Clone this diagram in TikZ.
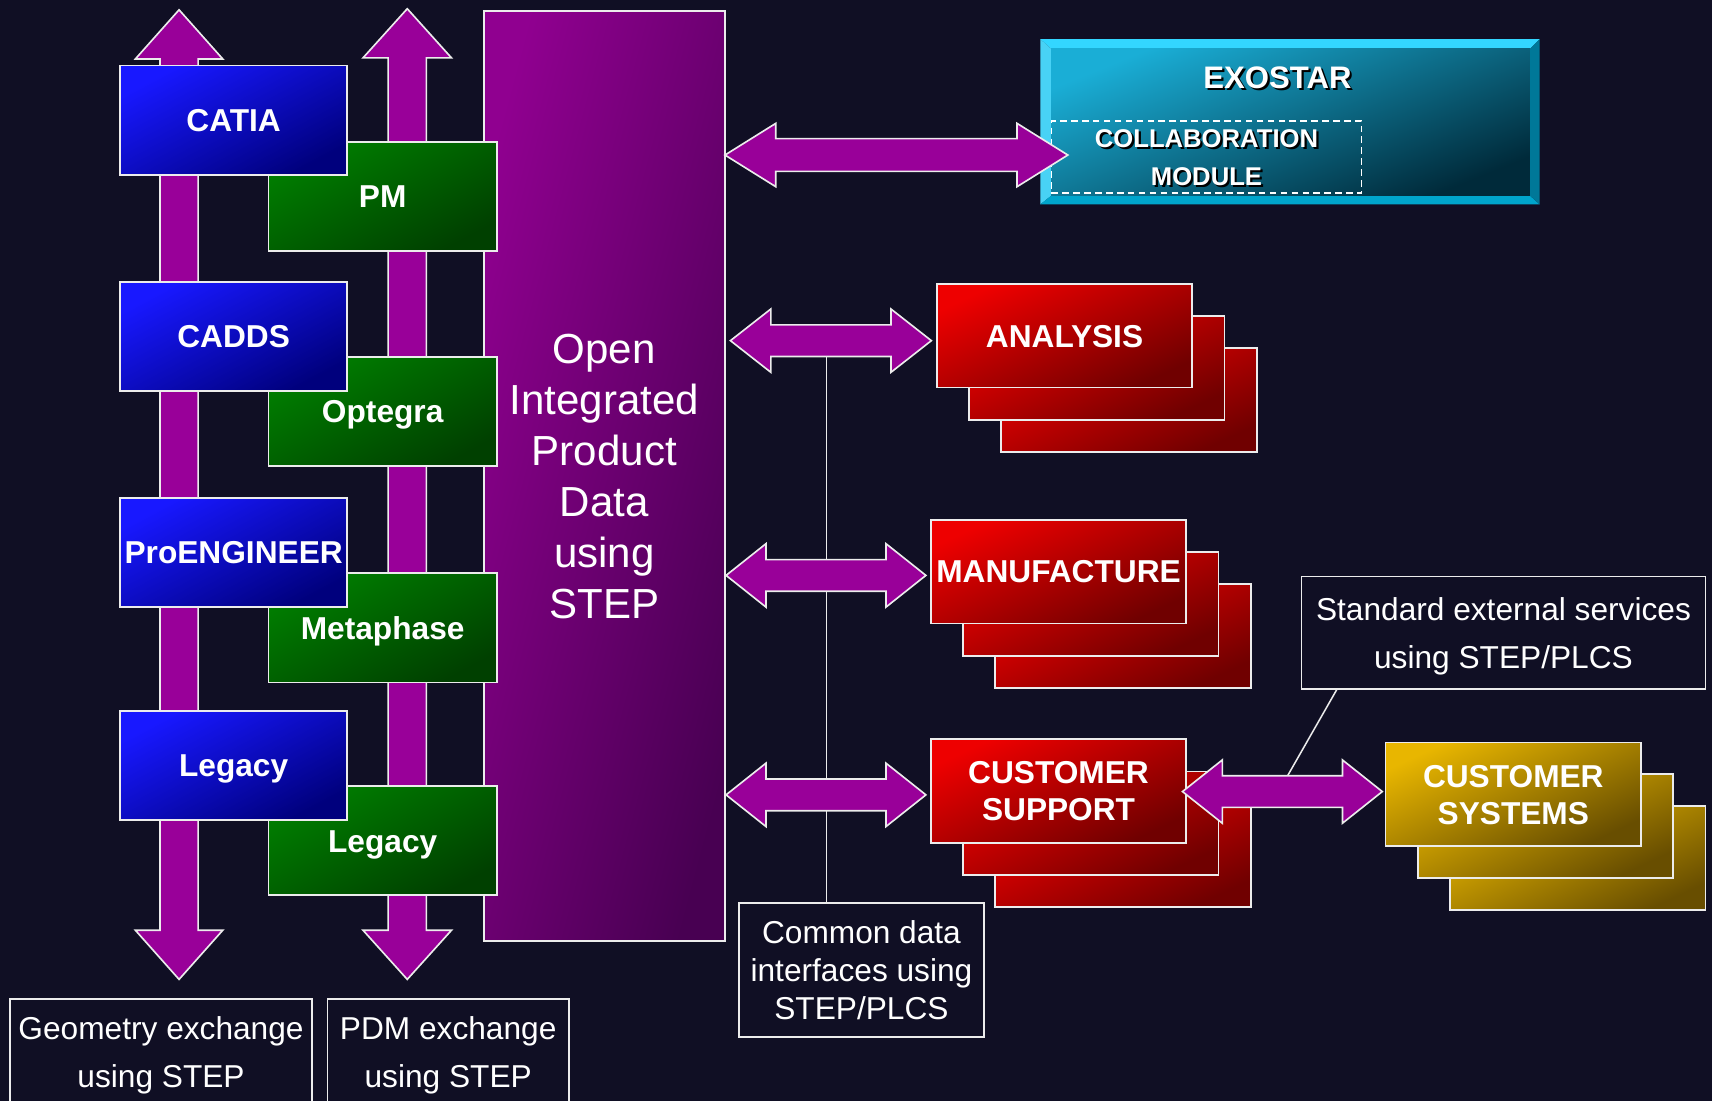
\documentclass[tikz,border=0pt]{standalone}
\usepackage{fontspec}
\setmainfont{Liberation Sans}
\usetikzlibrary{calc}
\definecolor{bg}{RGB}{16,15,36}
\definecolor{arrowpurple}{RGB}{153,0,153}
\definecolor{edge}{RGB}{236,236,236}
\definecolor{blueA}{RGB}{24,24,255}
\definecolor{blueB}{RGB}{0,0,125}
\definecolor{greenA}{RGB}{0,126,0}
\definecolor{greenB}{RGB}{0,64,0}
\definecolor{redA}{RGB}{238,0,0}
\definecolor{redB}{RGB}{112,0,0}
\definecolor{goldA}{RGB}{232,182,0}
\definecolor{goldB}{RGB}{104,78,0}
\definecolor{purpA}{RGB}{144,0,144}
\definecolor{purpB}{RGB}{72,0,82}
\definecolor{cyanA}{RGB}{26,174,214}
\definecolor{cyanB}{RGB}{0,42,58}
\definecolor{bevT}{RGB}{51,214,255}
\definecolor{bevL}{RGB}{72,210,245}
\definecolor{bevB}{RGB}{0,165,204}
\definecolor{bevR}{RGB}{0,120,152}
\newcommand{\mytopstrut}{\rule{0pt}{0.95em}}
\newcommand{\mybotstrut}{\rule[-0.234em]{0pt}{0pt}}
\newcommand{\mycapstrut}{\rule[-0.234em]{0pt}{1.184em}}
% horizontal double block arrow: left tip, right tip, head length, shaft half, head half
\newcommand{\hdarrow}[5]{%
  \filldraw[blockarrow] (#1) -- ($(#1)+(#3,-#5)$) -- ($(#1)+(#3,-#4)$) -- ($(#2)+(-#3,-#4)$)
    -- ($(#2)+(-#3,-#5)$) -- (#2) -- ($(#2)+(-#3,#5)$) -- ($(#2)+(-#3,#4)$)
    -- ($(#1)+(#3,#4)$) -- ($(#1)+(#3,#5)$) -- cycle;}
% vertical double block arrow: top tip, bottom tip, head length, shaft half, head half
\newcommand{\vdarrow}[5]{%
  \filldraw[blockarrow] (#1) -- ($(#1)+(#5,#3)$) -- ($(#1)+(#4,#3)$) -- ($(#2)+(#4,-#3)$)
    -- ($(#2)+(#5,-#3)$) -- (#2) -- ($(#2)+(-#5,-#3)$) -- ($(#2)+(-#4,-#3)$)
    -- ($(#1)+(-#4,#3)$) -- ($(#1)+(-#5,#3)$) -- cycle;}
\tikzset{
  blockarrow/.style={fill=arrowpurple, draw=edge, line width=1.5pt, line join=miter},
  sysbox/.style={rectangle, draw=edge, line width=1.6pt, minimum width=208pt,
    minimum height=100pt, inner sep=0pt, text=white,
    font=\fontsize{29}{34}\selectfont\bfseries},
  bluebox/.style={sysbox, top color=blueA, bottom color=blueB, shading angle=28},
  greenbox/.style={sysbox, minimum width=209pt, top color=greenA, bottom color=greenB, shading angle=28},
  stackbox/.style={rectangle, draw=edge, line width=1.6pt, minimum width=234pt,
    minimum height=95pt, inner sep=0pt, text=white, align=center,
    font=\fontsize{29}{34}\selectfont\bfseries},
  redbox/.style={stackbox, top color=redA, bottom color=redB, shading angle=25},
  goldbox/.style={stackbox, top color=goldA, bottom color=goldB, shading angle=25},
  bigbox/.style={rectangle, draw=edge, line width=1.6pt, minimum width=221pt,
    minimum height=852pt, inner sep=0pt, text=white, align=center,
    top color=purpA, bottom color=purpB, shading angle=75,
    font=\fontsize{38.5}{46.8}\selectfont},
  labelbox/.style={rectangle, draw=edge, line width=1.6pt, fill=bg, inner sep=0pt,
    text=white, align=center, font=\fontsize{29}{44}\selectfont},
  thinline/.style={draw=edge, line width=1.4pt},
  exotext/.style={inner sep=0pt, align=center, font=\fontsize{28.5}{34}\selectfont\bfseries},
  collabtext/.style={inner sep=0pt, align=center, font=\fontsize{23.5}{35}\selectfont\bfseries},
}
\begin{document}
\begin{tikzpicture}[x=1pt,y=-1pt]
\clip (0,0) rectangle (1568,1008);
\fill[bg] (0,0) rectangle (1568,1008);

% vertical exchange arrows
\coordinate (gtop) at (164,9);
\coordinate (gbot) at (164,897);
\coordinate (ptop) at (373,8);
\coordinate (pbot) at (373,897);
\vdarrow{gtop}{gbot}{45}{17.5}{40}
\vdarrow{ptop}{pbot}{45}{17.5}{40.5}

% central product data box
\node[bigbox] (oipd) at (553.5,436)
  {\mytopstrut Open\\Integrated\\Product\\Data\\using\\STEP\mybotstrut};

% PDM systems
\node[greenbox] (pm) at (350.5,180) {\mycapstrut PM};
\node[greenbox] (optegra) at (350.5,377) {\mycapstrut Optegra};
\node[greenbox] (metaphase) at (350.5,575) {\mycapstrut Metaphase};
\node[greenbox] (legacyg) at (350.5,770) {\mycapstrut Legacy};

% CAD systems
\node[bluebox] (catia) at (214,110) {\mycapstrut CATIA};
\node[bluebox] (cadds) at (214,308) {\mycapstrut CADDS};
\node[bluebox] (proe) at (214,506) {\mycapstrut ProENGINEER};
\node[bluebox] (legacyb) at (214,701) {\mycapstrut Legacy};

% bottom labels
\node[labelbox, minimum width=276pt, minimum height=98pt] (geo) at (147.5,964)
  {\mytopstrut Geometry exchange\\using STEP\mybotstrut};
\node[labelbox, minimum width=221pt, minimum height=98pt] (pdm) at (410.5,964)
  {\mytopstrut PDM exchange\\using STEP\mybotstrut};

% common data interfaces
\node[labelbox, minimum width=224pt, minimum height=123pt,
  font=\fontsize{29}{34.5}\selectfont] (common) at (789,888.5)
  {\mytopstrut Common data\\interfaces using\\STEP/PLCS\mybotstrut};
\coordinate (hub) at (757,312);
\draw[thinline] (hub) -- (hub |- common.north);

% red stacks
\node[redbox] (ana3) at (1034,366.5) {};
\node[redbox] (ana2) at (1004.5,337) {};
\node[redbox] (ana1) at (975,307.5) {\mycapstrut ANALYSIS};
\node[redbox] (man3) at (1028.5,582.5) {};
\node[redbox] (man2) at (999,553) {};
\node[redbox] (man1) at (969.5,523.5) {\mycapstrut MANUFACTURE};
\node[redbox] (cus3) at (1028.5,783.5) {};
\node[redbox] (cus2) at (999,754) {};
\node[redbox] (cus1) at (969.5,724.5) {\mytopstrut CUSTOMER\\SUPPORT\mybotstrut};

% gold stack
\node[goldbox] (sys3) at (1445,786) {};
\node[goldbox] (sys2) at (1415.5,756.5) {};
\node[goldbox] (sys1) at (1386,727.5) {\mytopstrut CUSTOMER\\SYSTEMS\mybotstrut};

% standard external services
\node[labelbox, minimum width=370pt, minimum height=103pt] (std) at (1377,579.5)
  {\mytopstrut Standard external services\\using STEP/PLCS\mybotstrut};
\coordinate (stdfoot) at ($(std.south west)+(33,0)$);
\coordinate (csjoin) at (1179,711);
\draw[thinline] (stdfoot) -- (csjoin);

% horizontal arrows
\coordinate (anaL) at (669,312);
\coordinate (anaR) at (853,312);
\coordinate (manL) at (665,527);
\coordinate (manR) at (848,527);
\coordinate (cusL) at (665,728);
\coordinate (cusR) at (848,728);
\coordinate (csL) at (1083,725);
\coordinate (csR) at (1266,725);
\hdarrow{anaL}{anaR}{37}{14.5}{29}
\hdarrow{manL}{manR}{36.5}{14.5}{29}
\hdarrow{cusL}{cusR}{36.5}{14.5}{29}
\hdarrow{csL}{csR}{36.5}{14.5}{29}

% EXOSTAR
\node[minimum width=457pt, minimum height=151pt, inner sep=0pt] (exo) at (1181.5,111.5) {};
\coordinate (exoinw) at ($(exo.north west)+(10,9)$);
\coordinate (exoise) at ($(exo.south east)+(-9,-8)$);
\coordinate (exoine) at (exoise |- exoinw);
\coordinate (exoisw) at (exoinw |- exoise);
\fill[bevT] (exo.north west) -- (exo.north east) -- (exoine) -- (exoinw) -- cycle;
\fill[bevL] (exo.north west) -- (exoinw) -- (exoisw) -- (exo.south west) -- cycle;
\fill[bevB] (exo.south west) -- (exoisw) -- (exoise) -- (exo.south east) -- cycle;
\fill[bevR] (exo.north east) -- (exo.south east) -- (exoise) -- (exoine) -- cycle;
\shade[top color=cyanA, bottom color=cyanB, shading angle=22] (exoinw) rectangle (exoise);
\node[exotext, text=black] (exoshadow) at (1172,73) {\mycapstrut EXOSTAR};
\node[exotext, text=white] (exolabel) at (1170,71) {\mycapstrut EXOSTAR};
\node[collabtext, text=black] (collabshadow) at (1107,146)
  {\mytopstrut COLLABORATION\\MODULE\mybotstrut};
\node[collabtext, text=white, draw=white, line width=1.5pt, dash pattern=on 6pt off 4pt,
  minimum width=284pt, minimum height=66pt] (collab) at (1105,144)
  {\mytopstrut COLLABORATION\\MODULE\mybotstrut};
\coordinate (exoL) at (664,142);
\coordinate (exoR) at (978,142);
\hdarrow{exoL}{exoR}{46.5}{15}{29}
\end{tikzpicture}
\end{document}
